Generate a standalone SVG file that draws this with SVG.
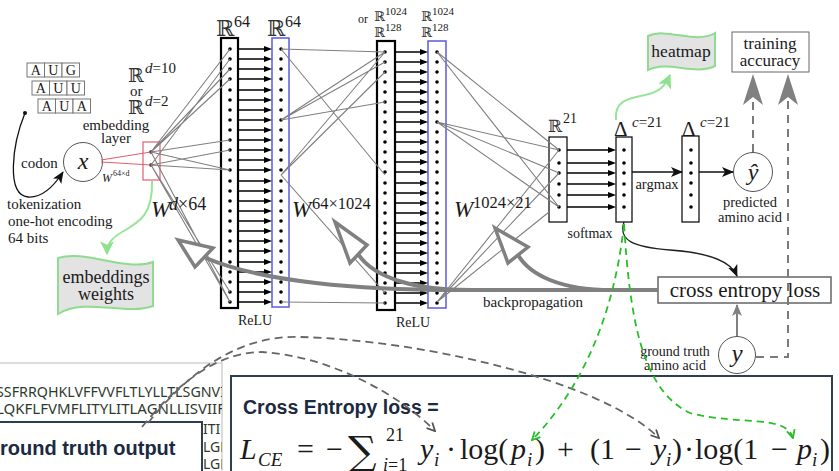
<svg xmlns="http://www.w3.org/2000/svg" width="839" height="471" viewBox="0 0 839 471">
<defs>
<style>
.s{font-family:"Liberation Serif","DejaVu Serif",serif;fill:#1a1a1a}
.r{font-family:"DejaVu Serif","Liberation Serif",serif;fill:#333}
.it{font-style:italic}
.b{font-family:"Liberation Sans",Arial,sans-serif;font-weight:bold;fill:#1b2a41}
.fan{stroke:#808080;stroke-width:1.1;fill:none}
.dots{stroke:#000;stroke-width:3.6;stroke-linecap:round;fill:none}
.rowl{stroke:#000;stroke-width:1.4;fill:none}
.thick{stroke:#808080;stroke-width:4;fill:none}
.tri{fill:#fff;stroke:#808080;stroke-width:3.5;stroke-linejoin:miter}
.gd{stroke:#26c026;stroke-width:1.8;fill:none;stroke-dasharray:7 5}
.kd{stroke:#666;stroke-width:1.8;fill:none;stroke-dasharray:8 5}
.vd{stroke:#7a7a7a;stroke-width:2;fill:none;stroke-dasharray:8 6}
.wave{fill:#e3e3e3;stroke:#8fdc8f;stroke-width:2}
</style>
<marker id="mStealth" viewBox="0 0 12 10" refX="11" refY="5" markerWidth="12" markerHeight="10" markerUnits="userSpaceOnUse" orient="auto"><path d="M0,0 L12,5 L0,10 L3,5 z" fill="#111"/></marker>
<marker id="mGreenF" viewBox="0 0 12 12" refX="11" refY="6" markerWidth="14" markerHeight="14" markerUnits="userSpaceOnUse" orient="auto"><path d="M0,0 L12,6 L0,12 L3,6 z" fill="#8fe08f"/></marker>
<marker id="mGV" viewBox="0 0 10 10" refX="9" refY="5" markerWidth="10" markerHeight="10" markerUnits="userSpaceOnUse" orient="auto"><path d="M1,1 L9,5 L1,9" fill="none" stroke="#26c026" stroke-width="1.8"/></marker>
<marker id="mKV" viewBox="0 0 10 10" refX="9" refY="5" markerWidth="10" markerHeight="10" markerUnits="userSpaceOnUse" orient="auto"><path d="M1,1 L9,5 L1,9" fill="none" stroke="#555" stroke-width="1.8"/></marker>
<marker id="mGray" viewBox="0 0 12 10" refX="11" refY="5" markerWidth="12" markerHeight="10" markerUnits="userSpaceOnUse" orient="auto"><path d="M0,0 L12,5 L0,10 L3,5 z" fill="#808080"/></marker>
<clipPath id="seqclip"><rect x="0" y="363" width="222" height="110"/></clipPath>
</defs>
<rect width="839" height="471" fill="#fff"/>

<g id="codons" stroke="#777" stroke-width="1" fill="#fff">
<rect x="27" y="63" width="17.5" height="14"/><rect x="44.5" y="63" width="17.5" height="14"/><rect x="62" y="63" width="17.5" height="14"/>
<rect x="32" y="81" width="17.5" height="14"/><rect x="49.5" y="81" width="17.5" height="14"/><rect x="67" y="81" width="17.5" height="14"/>
<rect x="38" y="99" width="17.5" height="14"/><rect x="55.5" y="99" width="17.5" height="14"/><rect x="73" y="99" width="17.5" height="14"/>
<g class="s" font-size="14" text-anchor="middle" stroke="none">
<text x="35.7" y="75">A</text><text x="53.2" y="75">U</text><text x="70.7" y="75">G</text>
<text x="40.7" y="93">A</text><text x="58.2" y="93">U</text><text x="75.7" y="93">U</text>
<text x="46.7" y="111">A</text><text x="64.2" y="111">U</text><text x="81.7" y="111">A</text>
</g>
</g>

<g id="x-node">
<circle cx="83" cy="162" r="19.5" fill="#fff" stroke="#555" stroke-width="1"/>
<text class="s it" x="83" y="169" font-size="24" text-anchor="middle">x</text>
<text class="s" x="21" y="168" font-size="15">codon</text>
<text class="s" x="7" y="209" font-size="15">tokenization</text>
<text class="s" x="8" y="226" font-size="15">one-hot encoding</text>
<text class="s" x="8" y="243" font-size="15">64 bits</text>
</g>

<g id="embedding-layer">
<rect x="143" y="142" width="17" height="38" fill="none" stroke="#e06070" stroke-width="1.2"/>
<path class="dots" d="M151,152h0M151,165h0" stroke-width="3.4"/>
<text class="s" x="116" y="130" font-size="15" text-anchor="middle">embedding</text>
<text class="s" x="116" y="143" font-size="15" text-anchor="middle">layer</text>
<text class="s it" x="102" y="182" font-size="12">W</text>
<text class="s" x="113" y="176" font-size="8">64×d</text>
<text class="r" x="128" y="82" font-size="19">ℝ</text>
<text class="s" x="145" y="73" font-size="15"><tspan font-style="italic">d</tspan>=10</text>
<text class="s" x="130" y="96" font-size="15">or</text>
<text class="r" x="128" y="114" font-size="19">ℝ</text>
<text class="s" x="145" y="106" font-size="15"><tspan font-style="italic">d</tspan>=2</text>
</g>

<g id="embeddings-weights">
<path class="wave" d="M58,258 C85,249 125,272 153,262 L153,306 C125,316 85,297 58,314 Z"/>
<text class="s" x="106" y="283" font-size="18" text-anchor="middle">embeddings</text>
<text class="s" x="106" y="300" font-size="18" text-anchor="middle">weights</text>
</g>

<g id="layer1">
<rect x="221" y="38" width="17" height="270" fill="#fff" stroke="#000" stroke-width="2.2"/>
<path class="dots" d="M230,49h0M230,59h0M230,69h0M230,79h0M230,90h0M230,100h0M230,110h0M230,120h0M230,130h0M230,140h0M230,150h0M230,160h0M230,170h0M230,181h0M230,191h0M230,201h0M230,211h0M230,221h0M230,231h0M230,241h0M230,251h0M230,262h0M230,272h0M230,282h0M230,292h0M230,302h0"/>
<text class="r" x="216" y="36" font-size="22">ℝ</text>
<text class="s" x="234" y="27" font-size="16">64</text>
<text class="s" x="255" y="325" font-size="14" text-anchor="middle">ReLU</text>
</g>

<g id="layer2">
<rect x="272" y="38" width="17" height="269" fill="#fff" stroke="#5a5ae0" stroke-width="1.5"/>
<path class="dots" d="M281,49h0M281,59h0M281,69h0M281,79h0M281,90h0M281,100h0M281,110h0M281,120h0M281,130h0M281,140h0M281,150h0M281,160h0M281,170h0M281,181h0M281,191h0M281,201h0M281,211h0M281,221h0M281,231h0M281,241h0M281,251h0M281,262h0M281,272h0M281,282h0M281,292h0M281,302h0"/>
<text class="r" x="267" y="36" font-size="22">ℝ</text>
<text class="s" x="285" y="27" font-size="16">64</text>
</g>

<g id="layer3">
<rect x="377" y="41" width="18" height="269" fill="#fff" stroke="#000" stroke-width="2.2"/>
<path class="dots" d="M385,52h0M385,62h0M385,72h0M385,82h0M385,92h0M385,102h0M385,112h0M385,122h0M385,132h0M385,142h0M385,152h0M385,162h0M385,172h0M385,183h0M385,193h0M385,203h0M385,213h0M385,223h0M385,233h0M385,243h0M385,253h0M385,263h0M385,273h0M385,283h0M385,293h0M385,303h0"/>
<text class="s" x="358" y="23" font-size="12">or</text>
<text class="r" x="374" y="21" font-size="13">ℝ</text>
<text class="s" x="385" y="15" font-size="11">1024</text>
<text class="r" x="374" y="37" font-size="13">ℝ</text>
<text class="s" x="385" y="31" font-size="11">128</text>
<text class="s" x="413" y="327" font-size="14" text-anchor="middle">ReLU</text>
</g>

<g id="layer4">
<rect x="428" y="41" width="18" height="267" fill="#fff" stroke="#5a5ae0" stroke-width="1.5"/>
<path class="dots" d="M437,52h0M437,62h0M437,72h0M437,82h0M437,92h0M437,102h0M437,112h0M437,122h0M437,132h0M437,142h0M437,152h0M437,162h0M437,172h0M437,183h0M437,193h0M437,203h0M437,213h0M437,223h0M437,233h0M437,243h0M437,253h0M437,263h0M437,273h0M437,283h0M437,293h0M437,303h0"/>
<text class="r" x="421" y="21" font-size="13">ℝ</text>
<text class="s" x="432" y="15" font-size="11">1024</text>
<text class="r" x="421" y="37" font-size="13">ℝ</text>
<text class="s" x="432" y="31" font-size="11">128</text>
</g>

<g id="layer5">
<rect x="549" y="137" width="18" height="85" fill="#fff" stroke="#000" stroke-width="1.2"/>
<path class="dots" d="M559,150h0M559,163h0M559,173h0M559,184h0M559,195h0M559,207h0"/>
<text class="r" x="548" y="132" font-size="17">ℝ</text>
<text class="s" x="563" y="123" font-size="14">21</text>
<text class="s" x="590" y="238" font-size="14" text-anchor="middle">softmax</text>
</g>

<g id="layer6">
<rect x="616" y="137" width="16" height="85" fill="#fff" stroke="#000" stroke-width="1.2"/>
<path class="dots" d="M624,150h0M624,163h0M624,173h0M624,184h0M624,195h0M624,207h0"/>
<text class="s" x="614" y="136" font-size="21">Δ</text>
<text class="s" x="632" y="127" font-size="15"><tspan font-style="italic">c</tspan>=21</text>
<text class="s" x="657" y="189" font-size="14.5" text-anchor="middle">argmax</text>
</g>

<g id="layer7">
<rect x="682" y="136" width="17" height="86" fill="#fff" stroke="#000" stroke-width="1.2"/>
<path class="dots" d="M691,150h0M691,163h0M691,173h0M691,183h0M691,195h0M691,207h0"/>
<text class="s" x="682" y="136" font-size="21">Δ</text>
<text class="s" x="700" y="127" font-size="15"><tspan font-style="italic">c</tspan>=21</text>
</g>

<g id="heatmap">
<path class="wave" d="M648,36 C668,27 695,45 715,33 L715,66 C695,76 668,60 648,70 Z"/>
<text class="s" x="681" y="57" font-size="17.5" text-anchor="middle">heatmap</text>
</g>

<g id="training-accuracy">
<rect x="732" y="32" width="77" height="40" fill="#fff" stroke="#666" stroke-width="1"/>
<text class="s" x="770" y="49" font-size="17" text-anchor="middle">training</text>
<text class="s" x="770" y="66" font-size="17" text-anchor="middle">accuracy</text>
</g>

<g id="y-hat">
<circle cx="753" cy="172" r="19.5" fill="#fff" stroke="#555" stroke-width="1"/>
<text class="s it" x="753" y="180" font-size="24" text-anchor="middle">ŷ</text>
<text class="s" x="750" y="207" font-size="14.5" text-anchor="middle">predicted</text>
<text class="s" x="750" y="222" font-size="14.5" text-anchor="middle">amino acid</text>
</g>

<g id="cross-entropy-loss">
<rect x="658" y="277" width="173" height="26" fill="#fff" stroke="#666" stroke-width="1.5"/>
<text class="s" x="745" y="297" font-size="21" text-anchor="middle">cross entropy loss</text>
</g>

<g id="y-node">
<circle cx="737" cy="355" r="18.5" fill="#fff" stroke="#555" stroke-width="1"/>
<text class="s it" x="737" y="362" font-size="25" text-anchor="middle">y</text>
<text class="s" x="675" y="356" font-size="14" text-anchor="middle">ground truth</text>
<text class="s" x="675" y="370" font-size="14" text-anchor="middle">amino acid</text>
</g>

<g id="sequence-panel">
<rect x="-2" y="363" width="224" height="120" fill="#fff" stroke="#bbb" stroke-width="1"/>
<g clip-path="url(#seqclip)" font-family="'Noto Sans','Open Sans',sans-serif" font-size="14" fill="#2e3a2e">
<text x="-4" y="397" textLength="229" lengthAdjust="spacingAndGlyphs">SSFRRQHKLVFFVVFLTLYLLTLSGNVI</text>
<text x="-4" y="414" textLength="229" lengthAdjust="spacingAndGlyphs">LQKFLFVMFLITYLITLAGNLLISVIIF</text>
<text x="203" y="434">ITI</text>
<text x="203" y="452">LGN</text>
<text x="203" y="469">LGN</text>
</g>
</g>

<g id="ground-truth-output">
<rect x="-2" y="422" width="204" height="60" fill="#fff" stroke="#2f3f52" stroke-width="2"/>
<text class="b" x="0" y="455" font-size="20">round truth output</text>
</g>

<g id="cross-entropy-formula">
<rect x="231" y="376" width="601" height="100" fill="#fff" stroke="#2f3f52" stroke-width="2"/>
<text class="b" x="243" y="414" font-size="19.5">Cross Entropy loss =</text>
<g class="s" font-size="30">
<text class="it" x="240" y="459">L</text>
<text class="it" x="258" y="466" font-size="19">CE</text>
<text x="297" y="459">=</text>
<text x="326" y="459">−</text>
<text x="348" y="465" font-size="40" font-family="'DejaVu Serif',serif">∑</text>
<text x="386" y="441" font-size="18">21</text>
<text x="383" y="471" font-size="18"><tspan font-style="italic">i</tspan>=1</text>
<text class="it" x="420" y="459">y</text>
<text class="it" x="434" y="466" font-size="19">i</text>
<text x="446" y="459">·</text>
<text x="460" y="459">log(</text>
<text class="it" x="511" y="459">p</text>
<text class="it" x="527" y="466" font-size="19">i</text>
<text x="535" y="459">)</text>
<text x="557" y="459">+</text>
<text x="590" y="459">(1</text>
<text x="625" y="459">−</text>
<text class="it" x="653" y="459">y</text>
<text class="it" x="666" y="466" font-size="19">i</text>
<text x="672" y="459">)</text>
<text x="684" y="459">·</text>
<text x="695" y="459">log(1</text>
<text x="771" y="459">−</text>
<text class="it" x="797" y="459">p</text>
<text class="it" x="812" y="466" font-size="19">i</text>
<text x="820" y="459">)</text>
</g>
</g>

<g id="connectors">
<circle cx="25" cy="113" r="2" fill="#111"/>
<path d="M25,113 C12,145 6,195 28,197 C42,198 54,186 63,172" fill="none" stroke="#111" stroke-width="1.3" marker-end="url(#mStealth)"/>
<path d="M101,160 L151,152 M101,162 L151,165" fill="none" stroke="#e06070" stroke-width="1.2"/>
<path class="fan" d="M151,152 L230,49 M151,152 L230,69 M151,152 L230,79 M151,165 L230,59 M151,152 L230,140 M151,165 L230,150 M151,152 L230,170 M151,165 L230,170 M151,165 L230,292 M151,165 L230,302 M151,152 L230,302"/>
<path class="rowl" d="M238,49H266M238,59H266M238,69H266M238,79H266M238,90H266M238,100H266M238,110H266M238,120H266M238,130H266M238,140H266M238,150H266M238,160H266M238,170H266M238,181H266M238,191H266M238,201H266M238,211H266M238,221H266M238,231H266M238,241H266M238,251H266M238,262H266M238,272H266M238,282H266M238,292H266M238,302H266"/>
<path fill="#000" d="M272,49l-8,-3v6zM272,59l-8,-3v6zM272,69l-8,-3v6zM272,79l-8,-3v6zM272,90l-8,-3v6zM272,100l-8,-3v6zM272,110l-8,-3v6zM272,120l-8,-3v6zM272,130l-8,-3v6zM272,140l-8,-3v6zM272,150l-8,-3v6zM272,160l-8,-3v6zM272,170l-8,-3v6zM272,181l-8,-3v6zM272,191l-8,-3v6zM272,201l-8,-3v6zM272,211l-8,-3v6zM272,221l-8,-3v6zM272,231l-8,-3v6zM272,241l-8,-3v6zM272,251l-8,-3v6zM272,262l-8,-3v6zM272,272l-8,-3v6zM272,282l-8,-3v6zM272,292l-8,-3v6zM272,302l-8,-3v6z"/>
<path class="fan" d="M281,49 L385,52 M281,49 L385,175 M281,120 L385,52 M281,120 L385,62 M281,120 L385,102 M281,175 L385,52 M281,175 L385,72 M281,175 L385,293 M281,302 L385,303"/>
<path class="rowl" d="M395,52H422M395,62H422M395,72H422M395,82H422M395,92H422M395,102H422M395,112H422M395,122H422M395,132H422M395,142H422M395,152H422M395,162H422M395,172H422M395,183H422M395,193H422M395,203H422M395,213H422M395,223H422M395,233H422M395,243H422M395,253H422M395,263H422M395,273H422M395,283H422M395,293H422M395,303H422"/>
<path fill="#000" d="M428,52l-8,-3v6zM428,62l-8,-3v6zM428,72l-8,-3v6zM428,82l-8,-3v6zM428,92l-8,-3v6zM428,102l-8,-3v6zM428,112l-8,-3v6zM428,122l-8,-3v6zM428,132l-8,-3v6zM428,142l-8,-3v6zM428,152l-8,-3v6zM428,162l-8,-3v6zM428,172l-8,-3v6zM428,183l-8,-3v6zM428,193l-8,-3v6zM428,203l-8,-3v6zM428,213l-8,-3v6zM428,223l-8,-3v6zM428,233l-8,-3v6zM428,243l-8,-3v6zM428,253l-8,-3v6zM428,263l-8,-3v6zM428,273l-8,-3v6zM428,283l-8,-3v6zM428,293l-8,-3v6zM428,303l-8,-3v6z"/>
<path class="fan" d="M437,52 L559,150 M437,52 L559,207 M437,122 L559,150 M437,122 L559,173 M437,122 L559,207 M437,302 L559,150 M437,302 L559,173 M437,302 L549,212"/>
<path class="rowl" d="M567,150H610M567,163H610M567,173H610M567,184H610M567,195H610M567,207H610"/>
<path fill="#000" d="M616,150l-8,-3v6zM616,163l-8,-3v6zM616,173l-8,-3v6zM616,184l-8,-3v6zM616,195l-8,-3v6zM616,207l-8,-3v6z"/>
<path d="M632,172 H682" fill="none" stroke="#111" stroke-width="1.3" marker-end="url(#mStealth)"/>
<path d="M699,172 H733" fill="none" stroke="#111" stroke-width="1.3" marker-end="url(#mStealth)"/>
<path d="M624,222 C618,240 632,247 670,250 C712,253 731,262 737,276" fill="none" stroke="#222" stroke-width="1.3" marker-end="url(#mStealth)"/>
<path d="M737,336 V305" fill="none" stroke="#808080" stroke-width="2" marker-end="url(#mGray)"/>
<path class="vd" d="M753,152 V98"/>
<path class="vd" d="M756,357 H788 V98"/>
<path fill="#808080" d="M753,74 L763,105 L753,97 L743,105 Z M788,74 L798,105 L788,97 L778,105 Z"/>
<path d="M152,181 C153,214 140,222 122,232 C110,239 107,245 107,254" fill="none" stroke="#9ae49a" stroke-width="2" marker-end="url(#mGreenF)"/>
<path d="M616,120 C614,100 630,98 645,95 C660,92 665,86 670,75" fill="none" stroke="#9ae49a" stroke-width="2" marker-end="url(#mGreenF)"/>
<path class="thick" d="M658,290 L455,290 C360,290 262,282 206,258"/>
<path class="thick" d="M470,290 C420,290 375,280 358,254"/>
<path class="thick" d="M612,290 C560,290 530,275 518,255"/>
<polygon class="tri" points="495,228 528,247 508,263"/>
<polygon class="tri" points="335,222 367,245 350,263"/>
<polygon class="tri" points="178,240 213,248 195,267"/>
<text class="s" x="533" y="307" font-size="15" text-anchor="middle">backpropagation</text>
<path class="kd" d="M148,423 C190,370 240,335 300,337 C420,340 600,380 659,438" marker-end="url(#mKV)"/>
<path class="kd" d="M142,427 C180,380 220,352 262,352 C330,356 400,395 435,431" marker-end="url(#mKV)"/>
<path class="gd" d="M624,224 C616,300 590,380 532,440" marker-end="url(#mGV)"/>
<path class="gd" d="M624,224 C630,320 642,390 690,413 C740,426 786,414 793,438" marker-end="url(#mGV)"/>
</g>

<g id="weight-labels">
<text class="s it" x="151" y="217" font-size="23">W</text>
<text class="s" x="169" y="210" font-size="18"><tspan font-style="italic">d</tspan>×64</text>
<text class="s it" x="292" y="217" font-size="23">W</text>
<text class="s" x="312" y="209" font-size="16.5">64×1024</text>
<text class="s it" x="454" y="217" font-size="23">W</text>
<text class="s" x="473" y="208" font-size="16.5">1024×21</text>
</g>
</svg>
